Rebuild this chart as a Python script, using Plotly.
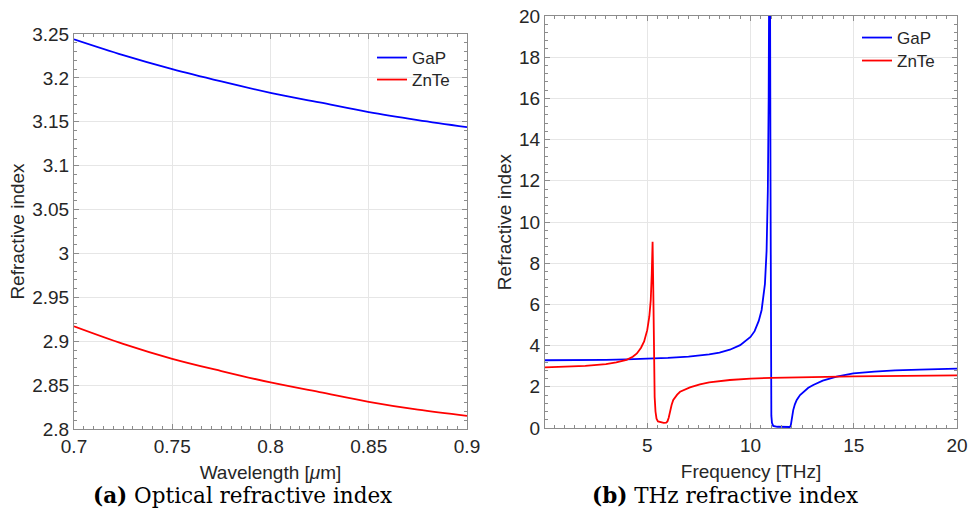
import plotly.graph_objects as go

# ---------------- data ----------------
# (a) optical refractive index vs wavelength [um]
opt_wavelength = [0.70, 0.725, 0.75, 0.775, 0.80, 0.825, 0.85, 0.875, 0.90]
opt_gap = [3.244, 3.226, 3.210, 3.196, 3.183, 3.172, 3.161, 3.152, 3.144]
opt_znte = [2.917, 2.897, 2.880, 2.866, 2.853, 2.842, 2.831, 2.822, 2.815]

# (b) THz refractive index vs frequency [THz]
thz_freq_gap = [0.05, 1, 2, 3, 4, 5, 6, 7, 7.5, 8, 8.5, 9, 9.5, 9.75, 10, 10.2, 10.3,
                10.4, 10.54, 10.65, 10.7, 10.78, 10.84, 10.88, 10.93, 10.97, 10.99,
                11.01, 11.04, 11.1, 11.3, 11.6, 11.9, 11.95, 11.99, 12.07, 12.15, 12.24,
                12.4, 12.56, 12.8, 13.04, 13.5, 14.17, 14.98, 16, 17, 18.2, 20]
thz_gap = [3.29, 3.29, 3.30, 3.31, 3.33, 3.36, 3.40, 3.46, 3.50, 3.57, 3.66, 3.80, 4.02,
           4.20, 4.42, 4.70, 4.92, 5.20, 5.73, 6.50, 7.00, 8.60, 11.5, 16.0, 28.0, 12.0,
           2.5, 0.6, 0.25, 0.10, 0.06, 0.05, 0.05, 0.12, 0.45, 0.87, 1.15, 1.36, 1.60,
           1.76, 1.95, 2.09, 2.30, 2.49, 2.65, 2.74, 2.80, 2.83, 2.88]

thz_freq_znte = [0.05, 1, 2, 3, 3.5, 4, 4.3, 4.5, 4.7, 4.85, 5.0, 5.1, 5.17, 5.22, 5.26,
                 5.29, 5.32, 5.36, 5.4, 5.45, 5.52, 5.65, 5.8, 5.92, 5.98, 6.04, 6.1,
                 6.18, 6.26, 6.35, 6.45, 6.59, 6.8, 7.07, 7.55, 8, 9, 10, 11, 12.4, 15, 20]
thz_znte = [2.94, 2.97, 3.02, 3.10, 3.18, 3.31, 3.46, 3.62, 3.90, 4.20, 4.75, 5.40, 6.20,
            7.50, 9.04, 7.00, 3.00, 1.50, 0.80, 0.45, 0.32, 0.27, 0.25, 0.26, 0.32, 0.50,
            0.80, 1.12, 1.36, 1.50, 1.62, 1.76, 1.87, 1.97, 2.12, 2.22, 2.33, 2.40, 2.43,
            2.47, 2.51, 2.55]

opt_yticks = [2.8, 2.85, 2.9, 2.95, 3.0, 3.05, 3.1, 3.15, 3.2, 3.25]
opt_yticklabels = ["2.8", "2.85", "2.9", "2.95", "3", "3.05", "3.1", "3.15", "3.2", "3.25"]
opt_xticks = [0.7, 0.75, 0.8, 0.85, 0.9]
opt_xticklabels = ["0.7", "0.75", "0.8", "0.85", "0.9"]
thz_xticks = [5, 10, 15, 20]
thz_yticks = [0, 2, 4, 6, 8, 10, 12, 14, 16, 18, 20]

# ---------------- styling ----------------
FONT = "Liberation Sans, Arial, sans-serif"
TXT = "#262626"
BOX = "#8c8c8c"
GRID = "#e6e6e6"
BLUE = "#0000ff"
RED = "#ff0000"

fig = go.Figure()
fig.add_trace(go.Scatter(x=opt_wavelength, y=opt_gap, mode="lines", name="GaP",
                         line=dict(color=BLUE, width=1.8, shape="spline"),
                         xaxis="x", yaxis="y", legend="legend"))
fig.add_trace(go.Scatter(x=opt_wavelength, y=opt_znte, mode="lines", name="ZnTe",
                         line=dict(color=RED, width=1.8, shape="spline"),
                         xaxis="x", yaxis="y", legend="legend2"))
fig.add_trace(go.Scatter(x=thz_freq_gap, y=thz_gap, mode="lines", name="GaP",
                         line=dict(color=BLUE, width=1.8),
                         xaxis="x2", yaxis="y2", legend="legend3"))
fig.add_trace(go.Scatter(x=thz_freq_znte, y=thz_znte, mode="lines", name="ZnTe",
                         line=dict(color=RED, width=1.8),
                         xaxis="x2", yaxis="y2", legend="legend4"))

def axis_common(**kw):
    d = dict(showline=True, linecolor=BOX, linewidth=1, mirror="allticks",
             ticks="inside", ticklen=5, tickcolor=BOX, showgrid=True,
             gridcolor=GRID, gridwidth=1, zeroline=False, automargin=False,
             tickfont=dict(family=FONT, size=19, color=TXT),
             title_font=dict(family=FONT, size=19, color=TXT))
    d.update(kw)
    return d

W, H = 968, 511

def leg(xpx, ypx):
    return dict(x=xpx / W, y=1 - ypx / H, xanchor="left", yanchor="middle",
                bgcolor="rgba(0,0,0,0)", borderwidth=0,
                font=dict(family=FONT, size=17, color=TXT))

fig.update_layout(
    width=W, height=H, margin=dict(l=0, r=0, t=0, b=0, autoexpand=False),
    paper_bgcolor="white", plot_bgcolor="white",
    xaxis=axis_common(domain=[74 / W, 467 / W], range=[0.7, 0.9],
                      tickvals=opt_xticks, ticktext=opt_xticklabels,
                      minor=dict(dtick=0.005, ticks="inside", ticklen=3, tickcolor=BOX, showgrid=False),
                      title=dict(text="Wavelength [<i>μ</i>m]", standoff=9), anchor="y"),
    yaxis=axis_common(domain=[1 - 429 / H, 1 - 34 / H], range=[2.8, 3.25],
                      tickvals=opt_yticks, ticktext=opt_yticklabels,
                      minor=dict(dtick=0.01, ticks="inside", ticklen=3, tickcolor=BOX, showgrid=False),
                      title=dict(text="Refractive index", standoff=2), anchor="x"),
    xaxis2=axis_common(domain=[545 / W, 957 / W], range=[0.05, 20],
                       tickvals=thz_xticks,
                       minor=dict(dtick=0.5, tick0=0, ticks="inside", ticklen=3, tickcolor=BOX, showgrid=False),
                       title=dict(text="Frequency [THz]", standoff=9), anchor="y2"),
    yaxis2=axis_common(domain=[1 - 428 / H, 1 - 16 / H], range=[0, 20],
                       tickvals=thz_yticks,
                       minor=dict(dtick=0.4, ticks="inside", ticklen=3, tickcolor=BOX, showgrid=False),
                       title=dict(text="Refractive index", standoff=2), anchor="x2"),
    legend=leg(372, 58),
    legend2=leg(372, 80),
    legend3=leg(857, 38),
    legend4=leg(857, 61),
    showlegend=True,
    annotations=[
        dict(text="<b>(a)</b> Optical refractive index", x=242 / W, y=1 - 495 / H,
             xref="paper", yref="paper", xanchor="center", yanchor="middle", showarrow=False,
             font=dict(family="DejaVu Serif, serif", size=21.5, color="black")),
        dict(text="<b>(b)</b> THz refractive index", x=725 / W, y=1 - 495 / H,
             xref="paper", yref="paper", xanchor="center", yanchor="middle", showarrow=False,
             font=dict(family="DejaVu Serif, serif", size=21.5, color="black")),
    ],
)

fig.write_html("out.html",
               config={"displayModeBar": False},
               post_script="document.body.style.margin='0';document.body.style.padding='0';document.body.style.overflow='hidden';")
